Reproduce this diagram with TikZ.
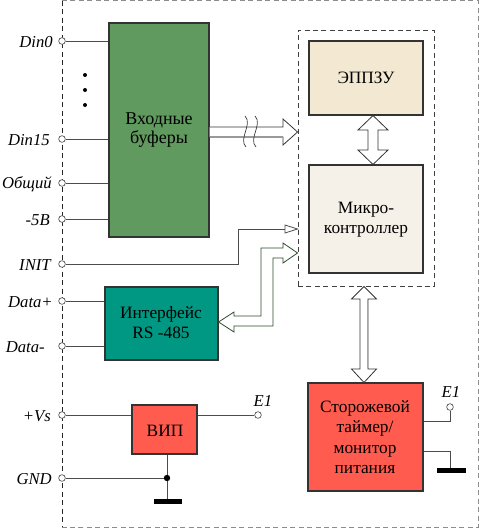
\documentclass[tikz,border=0pt]{standalone}
\usepackage{fontspec}
\setmainfont{Liberation Serif}
\usetikzlibrary{fit,calc}
\definecolor{bufgreen}{RGB}{97,154,94}
\definecolor{eepbeige}{RGB}{243,232,210}
\definecolor{mcbeige}{RGB}{245,241,233}
\definecolor{rsteal}{RGB}{0,152,130}
\definecolor{pwrred}{RGB}{255,91,79}
\definecolor{busgreen}{RGB}{45,75,45}
\tikzset{
  term/.style={circle,draw=black!70,fill=white,inner sep=0pt,minimum size=5pt,line width=0.5pt},
  pinlbl/.style={anchor=east,inner sep=0pt,font=\itshape\fontsize{12.5}{14}\selectfont},
  blk/.style={draw=black!80,line width=0.8pt,inner sep=0pt,align=center,font=\fontsize{13}{15}\selectfont},
  wire/.style={draw=black!70,line width=0.6pt},
  bus/.style={draw=black!80,line width=0.6pt,fill=white},
  frame/.style={draw=black!45,line width=0.7pt,dash pattern=on 3.75pt off 2.6pt},
}
\begin{document}
\begin{tikzpicture}[x=0.75pt,y=-0.75pt]
\useasboundingbox (0,0) rectangle (480,529);
% outer frame
\draw[frame] (62,0.8) -- (478.5,0.8) -- (478.5,527) -- (62,527);
\draw[frame,draw=black!85] (62,0.8) -- (62,527);
% inner frame
\node[frame,draw=black!75,fit={(298,30) (434,286)},inner sep=0pt] (cpu) {};
% blocks
\node[blk,fill=bufgreen,fit={(109,23) (209,237)}] (buf) {};
\node[font=\fontsize{13.5}{14.3}\selectfont,align=center] at (159,130) {Входные\\буферы};
\node[blk,fill=eepbeige,fit={(309,41) (423,115)}] (eep) {};
\node[font=\fontsize{13}{15}\selectfont] at (366,78) {ЭППЗУ};
\node[blk,fill=mcbeige,fit={(309,165) (423,273)}] (mc) {};
\node[font=\fontsize{13}{15}\selectfont,align=center] at (366,220) {Микро-\\контроллер};
\node[blk,fill=rsteal,fit={(105,287) (218,360)}] (rs) {};
\node[font=\fontsize{13}{15}\selectfont,align=center] at (161,323) {Интерфейс\\RS -485};
\node[blk,fill=pwrred,fit={(132,405) (197,454)}] (vip) {};
\node[font=\fontsize{13}{15}\selectfont] at (165,431) {ВИП};
\node[blk,fill=pwrred,fit={(308,383) (423,491)}] (wd) {};
\node[font=\fontsize{13}{15.3}\selectfont,align=center] at (365,437) {Сторожевой\\таймер/\\монитор\\питания};
% terminals
\foreach \n/\y in {d0/41,d15/139,com/183,m5/219,init/264,dp/301,dm/346,vs/415,gnd/478}
  \node[term] (t\n) at (62,\y) {};
\node[pinlbl] at (53,42) {Din0};
\node[pinlbl] at (50,140) {Din15};
\node[pinlbl] at (52,184) {Общий};
\node[pinlbl] at (50,220) {-5B};
\node[pinlbl] at (51,265) {INIT};
\node[pinlbl] at (53,302) {Data+};
\node[pinlbl] at (45,347) {Data-};
\node[pinlbl] at (51,416) {+Vs};
\node[pinlbl] at (52,479) {GND};
% dots
\foreach \y in {75,90,105} \fill (85,\y) circle (1.5pt);
% wires to buffers
\foreach \n in {d0,d15,com,m5} \draw[wire] (t\n) -- (t\n -| buf.west);
\draw[wire] (tdp) -- (tdp -| rs.west);
\draw[wire] (tdm) -- (tdm -| rs.west);
\draw[wire] (tvs) -- (tvs -| vip.west);
% E1 of VIP
\node[term] (e1a) at (258,415) {};
\node[inner sep=0pt,font=\itshape\fontsize{12.5}{14}\selectfont] at (263,401) {E1};
\draw[wire] (vip.east |- tvs) -- (e1a);
% GND
\coordinate (gj) at (167,478);
\coordinate (gb) at (167,501);
\draw[wire] (tgnd) -- (gj);
\draw[wire] (vip.south -| gj) -- (gb);
\fill (gj) circle (2.4pt);
\fill (154,499) rectangle (182,504);
% INIT line
\draw[wire] (tinit) -- (238,264) -- (238,229) -- (285,229);
\draw[wire,fill=white] (285,225) -- (cpu.west |- 0,229) -- (285,233) -- cycle;
% bus buffers -> cpu
\draw[bus] (buf.east |- 0,127) -- (283,127) -- (283,119) -- (cpu.west |- 0,132) -- (283,145) -- (283,137) -- (buf.east |- 0,137);
\draw[draw=black!40,line width=0.8pt] (buf.east |- 0,137) -- (283,137);
\draw[draw=black!80,line width=0.5pt] (245,116) .. controls (253,124) and (238,139) .. (246,147);
\draw[draw=black!80,line width=0.5pt] (255,116) .. controls (263,124) and (248,139) .. (256,147);
% bus RS-485 <-> cpu
\draw[bus,draw=busgreen] (rs.east |- 0,322) -- (234,312) -- (234,316) -- (261,316) -- (261,248) -- (283,248) -- (283,243) -- (cpu.west |- 0,253) -- (283,263) -- (283,258) -- (273,258) -- (273,326) -- (234,326) -- (234,332) -- cycle;
% double arrow eeprom <-> mc
\draw[bus] (eep.south -| 373,0) -- (388,130) -- (378,130) -- (378,150) -- (388,150) -- (mc.north -| 373,0) -- (358,150) -- (368,150) -- (368,130) -- (358,130) -- cycle;
% double arrow cpu <-> watchdog
\draw[bus] (cpu.south -| 364,0) -- (376.5,299) -- (368,299) -- (368,369) -- (376.5,369) -- (wd.north -| 364,0) -- (351.5,369) -- (360,369) -- (360,299) -- (351.5,299) -- cycle;
\draw[draw=black!35,line width=1pt] (367.4,300) -- (367.4,368);
% watchdog E1 and ground
\node[term] (e1b) at (450,407) {};
\node[inner sep=0pt,font=\itshape\fontsize{12.5}{14}\selectfont] at (451,392) {E1};
\draw[wire] (wd.east |- 0,421) -- (450,421) -- (e1b);
\coordinate (wg) at (450,470);
\draw[wire] (wd.east |- 0,451) -- (450,451) -- (wg);
\fill (437,467.5) rectangle (466,472.5);
\end{tikzpicture}
\end{document}
